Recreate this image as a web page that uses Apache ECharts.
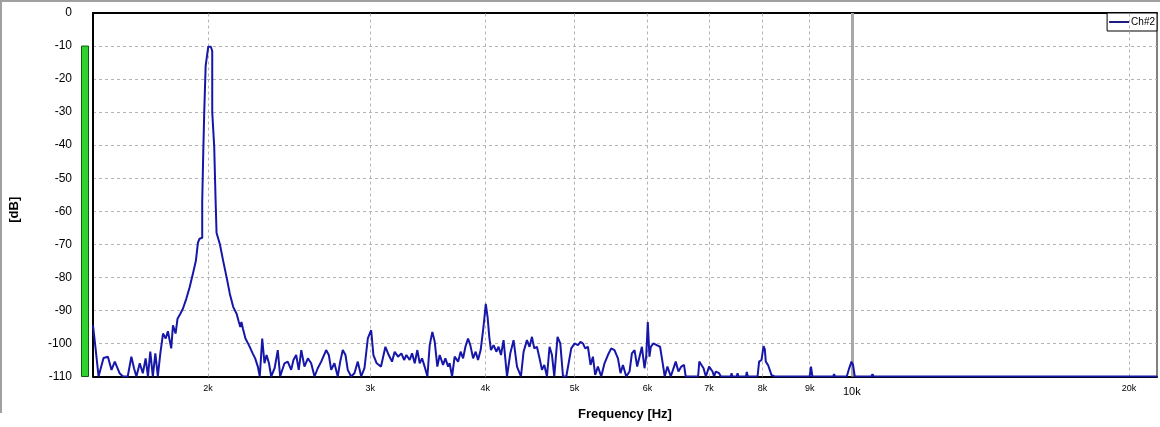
<!DOCTYPE html>
<html>
<head>
<meta charset="utf-8">
<script src="https://cdn.jsdelivr.net/npm/echarts@6/dist/echarts.min.js"></script>
<style>
html,body{margin:0;padding:0;background:#fff;}
#chart{width:1160px;height:427px;}
</style>
</head>
<body>
<div id="chart"></div>
<script>
// ---- data ----
const seriesName = 'Ch#2';
const freqHz = [
1500,1509,1521,1540,1557,1571,1584,1603,1617,1636,1651,1662,1672,1686,1699,1711,1721,1731,1742,1753,1764,1775,1787,1799,1809,1824,1832,1844,1853,1866,1878,1894,1910,1927,1940,1950,1958,1971,1971,1976,1976,1981,1981,1988,1988,2001,2014,2021,2021,2031,2031,2038,2038,2043,2043,2060,2077,2095,2112,2130,2148,2160,2168,2174,2182,2196,2215,2236,2250,2265,2276,2290,2303,2315,2329,2342,2362,2381,2395,2421,2441,2462,2476,2493,2509,2525,2545,2567,2588,2610,2631,2654,2687,2705,2721,2743,2766,2783,2801,2820,2836,2860,2884,2908,2933,2957,2982,3007,3024,3049,3082,3116,3142,3168,3189,3216,3243,3265,3284,3311,3331,3353,3375,3395,3415,3437,3461,3481,3504,3525,3548,3569,3599,3620,3645,3659,3681,3705,3737,3761,3784,3806,3831,3853,3880,3905,3928,3954,3978,3992,4005,4023,4040,4057,4084,4112,4135,4160,4187,4223,4258,4293,4330,4373,4402,4439,4468,4495,4521,4551,4581,4609,4636,4667,4697,4726,4753,4792,4825,4858,4898,4959,5000,5043,5075,5106,5135,5170,5204,5235,5265,5301,5345,5389,5435,5480,5525,5573,5609,5643,5690,5737,5771,5809,5848,5882,5917,5956,5981,6005,6030,6050,6091,6141,6192,6229,6265,6307,6360,6439,6483,6530,6574,6602,6810,6830,6857,6903,6943,7000,7060,7088,7118,7177,7208,7390,7404,7420,7500,7516,7532,7675,7692,7710,7901,7932,7980,8020,8046,8066,8113,8153,8182,8223,8249,9000,9031,9062,9545,9568,9590,9876,9933,9993,10033,10075,10500,10531,10565,21450
];
const levelDb = [
-94.5,-101,-110,-104.4,-104,-108,-105.5,-109,-110,-110,-104,-107.5,-110,-106,-109,-104.5,-110,-102.5,-110,-103,-110,-103,-97,-98.5,-96.3,-101.5,-94.5,-97,-92.5,-91,-89.5,-86.5,-83,-78.5,-75,-69.5,-68.3,-68,-57,-57,-42.5,-42.5,-30,-30,-16,-10.2,-10.2,-11.5,-30,-30,-40.5,-40.5,-56.7,-56.7,-66.6,-70,-75,-80,-85,-89,-91,-93.5,-95,-93.5,-95.5,-98.5,-100.5,-103,-104.5,-107,-110,-98.5,-106,-103.5,-106,-110,-107.5,-102,-110,-106,-105.5,-108,-105,-103.5,-108,-102,-107,-104.5,-106,-110,-107.5,-105.5,-102,-103.5,-108,-106,-110,-105.5,-102,-103.5,-108,-110,-109,-105.5,-110,-107.5,-98.5,-96,-103.5,-106,-107,-101,-103.5,-105.5,-102.5,-104,-103,-105,-103.5,-105,-103,-106,-102,-106,-104.5,-107,-110,-100.5,-96.5,-99.5,-107,-103.5,-106.5,-104.5,-107,-106,-110,-104,-105.5,-102.5,-104.5,-101,-98.5,-100.5,-104.5,-102.5,-105,-102,-96,-92,-88,-92,-98,-102,-100.5,-102.5,-101,-103.5,-99,-110,-103,-99,-107,-110,-102.5,-99,-101,-98,-101.5,-101,-104.5,-108,-106.5,-110,-101,-103.5,-110,-98,-100,-110,-110,-101.5,-100,-100.5,-99.5,-100,-101.5,-101,-106.5,-104,-109.5,-107,-110,-106,-103.5,-101.5,-102,-104.5,-109,-106.5,-110,-108.5,-103,-102,-107,-104,-101,-107.5,-104,-93.5,-104,-101,-100,-100.5,-101,-105.5,-110,-107,-110,-105.5,-108.5,-107,-106.5,-110,-110,-105.5,-106,-107.5,-110,-107,-108.5,-110,-108.5,-109,-110,-110,-109,-110,-110,-109,-110,-110,-108.6,-110,-110,-105.5,-105,-100.8,-101.8,-105.5,-106.6,-107,-109.6,-109,-110,-110,-107,-110,-110,-109.3,-110,-110,-107.6,-105.5,-106.6,-110,-110,-109.3,-110,-110
];
const tickFreqs = [2000,3000,4000,5000,6000,7000,8000,9000,10000,20000];
const tickLabels = ['2k','3k','4k','5k','6k','7k','8k','9k','10k','20k'];
const cursorFreq = 10000;
const meterCategory = ['Ch#2'];
const meterLevel = [-10];
const dbMin = -110, dbMax = 0, dbStep = 10;
const fMin = 1500, fMax = 21450;

// ---- chart ----
const chart = echarts.init(document.getElementById('chart'), null, {renderer:'canvas'});
const FONT = 'Liberation Sans, Arial, sans-serif';

const markData = tickFreqs.map((f, i) => {
  const item = { xAxis: f, label: { formatter: tickLabels[i] } };
  if (f === cursorFreq) {
    item.lineStyle = { type: 'solid', width: 3, color: '#a8a8a8' };
    item.label = { formatter: tickLabels[i], fontSize: 11, distance: 10 };
  }
  return item;
});

const option = {
  animation: false,
  backgroundColor: '#fff',
  grid: [
    { left: 91, right: 3, top: 13, bottom: 50.5, show: true, borderColor: '#000', borderWidth: 1 },
    { left: 81, width: 8, top: 13, bottom: 50.5 }
  ],
  legend: {
    data: [{ name: seriesName, itemStyle: { color: '#1e1e82' } }],
    right: 3, top: 13, padding: [4, 2, 4, 2],
    icon: 'rect', itemWidth: 20, itemHeight: 2, itemGap: 2,
    borderColor: '#000', borderWidth: 1, backgroundColor: '#fff',
    textStyle: { fontSize: 10, fontFamily: FONT, color: '#000', padding: [0, 0, 0, -3] }
  },
  xAxis: [
    {
      gridIndex: 0, type: 'log', logBase: 10, min: fMin, max: fMax, position: 'bottom',
      axisLine: { onZero: false, lineStyle: { color: '#000', width: 2 } },
      axisTick: { show: false }, axisLabel: { show: false },
      splitLine: { show: false }, minorSplitLine: { show: false },
      name: 'Frequency [Hz]', nameLocation: 'middle', nameGap: 31,
      nameTextStyle: { fontWeight: 'bold', fontSize: 13, fontFamily: FONT, color: '#000' }
    },
    {
      gridIndex: 0, type: 'log', logBase: 10, min: fMin, max: fMax, position: 'top',
      axisLine: { onZero: false, lineStyle: { color: '#000', width: 2 } },
      axisTick: { show: false }, axisLabel: { show: false }, splitLine: { show: false }
    },
    { gridIndex: 1, type: 'category', data: meterCategory, show: false }
  ],
  yAxis: [
    {
      gridIndex: 0, type: 'value', min: dbMin, max: dbMax, interval: dbStep,
      axisLine: { show: true, onZero: false, lineStyle: { color: '#000', width: 2 } },
      axisTick: { show: false },
      axisLabel: { margin: 21, fontSize: 12, color: '#000', fontFamily: FONT },
      splitLine: { show: true, lineStyle: { type: [3, 3], color: '#b4b4b4', width: 1 } },
      name: '[dB]', nameLocation: 'middle', nameGap: 72, nameRotate: 90,
      nameTextStyle: { fontWeight: 'bold', fontSize: 13, fontFamily: FONT, color: '#000', padding: [0, 30, 0, 0] }
    },
    { gridIndex: 1, type: 'value', min: dbMin, max: dbMax, show: false }
  ],
  series: [
    {
      name: seriesName, type: 'line', xAxisIndex: 0, yAxisIndex: 0,
      data: freqHz.map((f, i) => [f, levelDb[i]]),
      showSymbol: false, symbol: 'none', clip: true,
      lineStyle: { color: '#1616a8', width: 2 },
      itemStyle: { color: '#1616a8' },
      z: 5,
      markLine: {
        silent: true, symbol: 'none', animation: false,
        lineStyle: { type: [3, 3], color: '#b4b4b4', width: 1 },
        label: { show: true, position: 'start', distance: 8, fontSize: 9, fontFamily: FONT, color: '#000' },
        emphasis: { disabled: true },
        data: markData
      }
    },
    {
      type: 'custom', xAxisIndex: 2, yAxisIndex: 1,
      data: meterCategory.map((c, i) => [c, meterLevel[i]]),
      renderItem: function (params, api) {
        const top = api.coord([api.value(0), api.value(1)]);
        const bot = api.coord([api.value(0), dbMin]);
        const w = api.size([1, 0])[0];
        return {
          type: 'rect',
          shape: { x: top[0] - w / 2 + 0.5, y: top[1], width: w - 1, height: bot[1] - top[1] },
          style: { fill: '#2ed22e', stroke: '#0d5e0d', lineWidth: 1 }
        };
      }
    }
  ],
  graphic: [
    { type: 'line', shape: { x1: 0, y1: 1, x2: 1160, y2: 1 }, style: { stroke: '#a0a0a0', lineWidth: 2 }, silent: true },
    { type: 'line', shape: { x1: 1, y1: 0, x2: 1, y2: 413 }, style: { stroke: '#a0a0a0', lineWidth: 2 }, silent: true }
  ]
};
chart.setOption(option);
</script>
</body>
</html>
